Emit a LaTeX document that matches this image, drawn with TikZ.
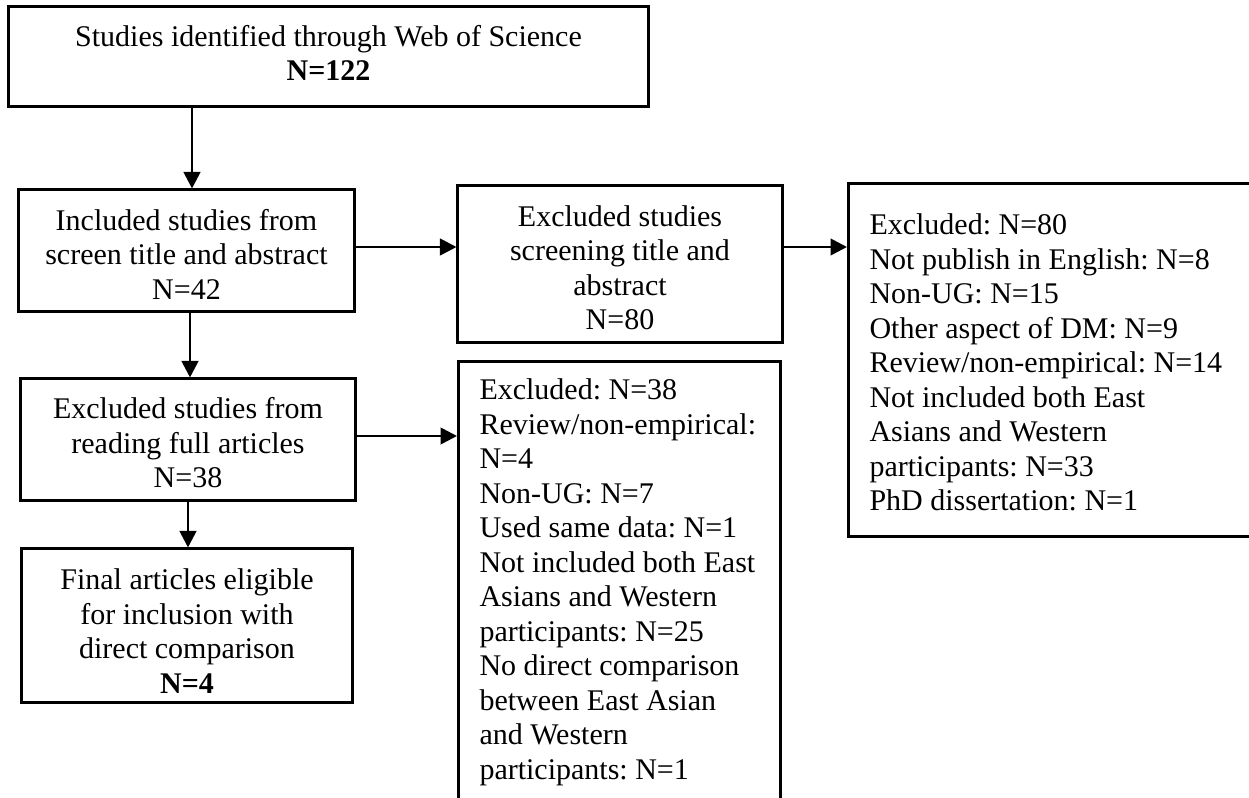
\documentclass[tikz,border=0pt]{standalone}
\usepackage{fontspec}
\setmainfont{Liberation Serif}
\usetikzlibrary{arrows.meta}
\frenchspacing
\begin{document}
\begin{tikzpicture}[x=0.4pt,y=-0.4pt,
  txt/.style={font=\fontsize{12pt}{13.8pt}\selectfont},
  box/.style={draw, line width=1.2pt, inner sep=0pt},
  boxtext/.style={txt, align=center, inner sep=0pt},
  listbox/.style={txt, draw, line width=1.2pt, inner xsep=8.4pt},
  arr/.style={line width=1.1pt, -{Triangle[length=6.6pt,width=6.6pt]}}]
\useasboundingbox (0,0) rectangle (1249,798);
\clip (0,0) rectangle (1249,798);
\fill[white] (0,0) rectangle (1249,798);

% main flow, left column
\node[box, minimum width=255.6pt, minimum height=40pt] (ident) at (328.5,57) {};
\node[boxtext] (identtxt) at ([yshift=1.6pt]ident.center)
  {Studies identified through Web of Science\\\textbf{N=122}};
\node[box, minimum width=134pt, minimum height=48.8pt] (incl) at (186.5,251) {};
\node[boxtext] (incltxt) at ([yshift=-1.2pt]incl.center)
  {Included studies from\\screen title and abstract\\N=42};
\node[box, minimum width=133.6pt, minimum height=48.8pt] (exfull) at (188,440) {};
\node[boxtext] (exfulltxt) at ([yshift=-1.2pt]exfull.center)
  {Excluded studies from\\reading full articles\\N=38};
\node[box, minimum width=132pt, minimum height=61.6pt] (final) at (187,626) {};
\node[boxtext] (finaltxt) at ([yshift=-2pt]final.center)
  {Final articles eligible\\for inclusion with\\direct comparison\\\textbf{N=4}};

% exclusion after title/abstract screening
\node[box, minimum width=129.6pt, minimum height=62.8pt] (exsc) at (620,264.5) {};
\node[boxtext] (exsctxt) at ([yshift=-1.2pt]exsc.center)
  {Excluded studies\\screening title and\\abstract\\N=80};

% breakdown of the title/abstract exclusions
\node[listbox, anchor=north west, inner ysep=12.2pt] (exlist1) at (847,182)
  {\begin{minipage}[t][116.8pt][t]{170pt}\raggedright
   Excluded: N=80\\
   Not publish in English: N=8\\
   Non-UG: N=15\\
   Other aspect of DM: N=9\\
   Review/non-empirical: N=14\\
   Not included both East\\
   Asians and Western\\
   participants: N=33\\
   PhD dissertation: N=1
   \end{minipage}};

% breakdown of the full-text exclusions
\node[listbox, anchor=north west, inner ysep=7pt] (exlist2) at (457,360)
  {\begin{minipage}[t][190pt][t]{112pt}\raggedright
   Excluded: N=38\\
   Review/non-empirical:\\
   N=4\\
   Non-UG: N=7\\
   Used same data: N=1\\
   Not included both East\\
   Asians and Western\\
   participants: N=25\\
   No direct comparison\\
   between East Asian\\
   and Western\\
   participants: N=1
   \end{minipage}};

% connectors
\coordinate (a1) at ([xshift=2.2pt]incl.north);
\draw[arr] (a1 |- ident.south) -- (a1);
\coordinate (a2) at ([xshift=1.4pt]incl.south);
\draw[arr] (a2) -- (a2 |- exfull.north);
\draw[arr] (exfull.south) -- (exfull.south |- final.north);
\coordinate (a3) at ([yshift=1.6pt]incl.east);
\draw[arr] (a3) -- (a3 -| exsc.west);
\coordinate (a4) at ([yshift=7pt]exsc.east);
\draw[arr] (a4) -- (a4 -| exlist1.west);
\coordinate (a5) at ([yshift=1.6pt]exfull.east);
\draw[arr] (a5) -- (a5 -| exlist2.west);
\end{tikzpicture}
\end{document}
